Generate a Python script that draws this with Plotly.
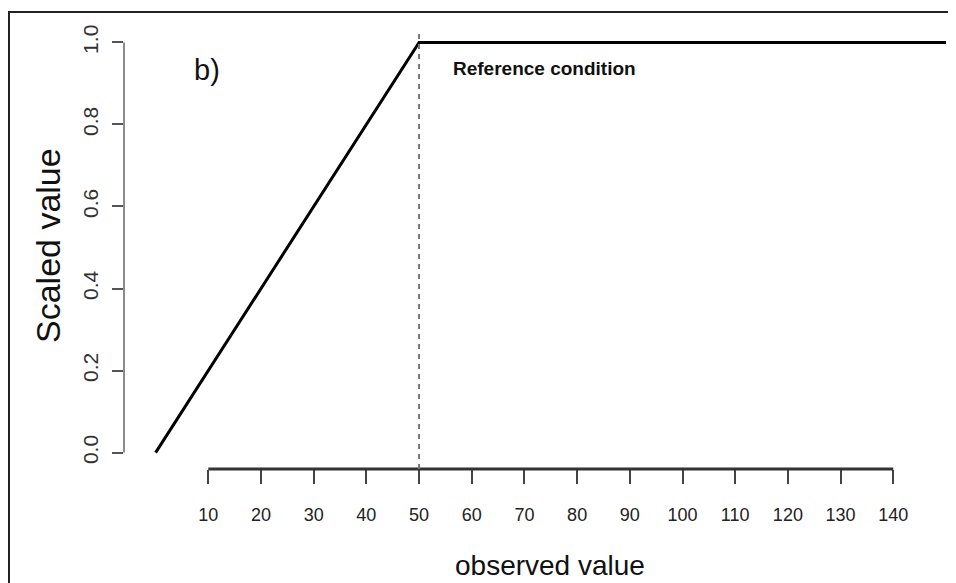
import plotly.graph_objects as go

# Data
obs_x = [0, 50, 150]
scaled_y = [0.0, 1.0, 1.0]
ref_x = 50
x_ticks = [10, 20, 30, 40, 50, 60, 70, 80, 90, 100, 110, 120, 130, 140]
y_ticks = [0.0, 0.2, 0.4, 0.6, 0.8, 1.0]
y_tick_text = ["0.0", "0.2", "0.4", "0.6", "0.8", "1.0"]

OFF = 8  # page body margin
W, H = 956 - OFF, 583 - OFF
PL, PT, PB = 124, 26, 469  # plot area edges in page pixels
ML, MT = PL - OFF, PT - OFF
PW = W - ML
PH = PB - PT
MB = H - (PB - OFF)


def px(tx):
    return (tx - PL) / PW


def py(ty):
    return (PB - ty) / PH


fig = go.Figure()
fig.add_trace(go.Scatter(x=obs_x, y=scaled_y, mode="lines",
                         line=dict(color="black", width=3), hoverinfo="skip",
                         showlegend=False))

regular = "Liberation Sans, Arial, sans-serif"

fig.update_layout(
    width=W, height=H,
    margin=dict(l=ML, r=0, t=MT, b=MB),
    paper_bgcolor="white", plot_bgcolor="white",
    xaxis=dict(range=[-6, -6 + PW / 5.269], showgrid=False, zeroline=False,
               showline=False, tickvals=x_ticks, ticks="outside", ticklen=14,
               tickwidth=1.5, tickcolor="#444",
               tickfont=dict(family=regular, size=18, color="#222"),
               ticklabelstandoff=15),
    yaxis=dict(range=[-0.04, 1.04], showgrid=False, zeroline=False,
               showline=False, tickvals=y_ticks, ticktext=y_tick_text,
               ticks="outside", ticklen=11, tickwidth=1.5, tickcolor="#555",
               tickangle=-90,
               tickfont=dict(family=regular, size=21, color="#333"),
               ticklabelstandoff=6),
)

# Axis spines (R style, only across tick range)
fig.add_shape(type="line", xref="x", yref="paper", x0=x_ticks[0], x1=x_ticks[-1],
              y0=0, y1=0, line=dict(color="#333", width=3))
fig.add_shape(type="line", xref="paper", yref="y", x0=0, x1=0,
              y0=y_ticks[0], y1=y_ticks[-1], line=dict(color="#666", width=1.5))

# Dotted reference line
fig.add_shape(type="line", xref="x", yref="paper", x0=ref_x, x1=ref_x,
              y0=0, y1=0.99, line=dict(color="#777", width=2, dash="5px,5px"))

# Outer frame
fig.add_shape(type="rect", xref="paper", yref="paper",
              x0=px(9), x1=px(1000), y0=py(640), y1=py(12),
              line=dict(color="#222", width=2))

common = dict(xref="paper", yref="paper", showarrow=False,
              xanchor="center", yanchor="middle")
fig.add_annotation(text="b)", x=px(207), y=py(70),
                   font=dict(family=regular, size=29, color="#111"), **common)
fig.add_annotation(text="<b>Reference condition</b>", x=px(544), y=py(68),
                   font=dict(family=regular, size=19, color="#111"), **common)
fig.add_annotation(text="Scaled value", x=px(48), y=py(246), textangle=-90,
                   font=dict(family=regular, size=34, color="#111"), **common)
fig.add_annotation(text="observed value", x=px(550), y=py(565),
                   font=dict(family=regular, size=28, color="#111"), **common)

fig.write_html("out.html")
